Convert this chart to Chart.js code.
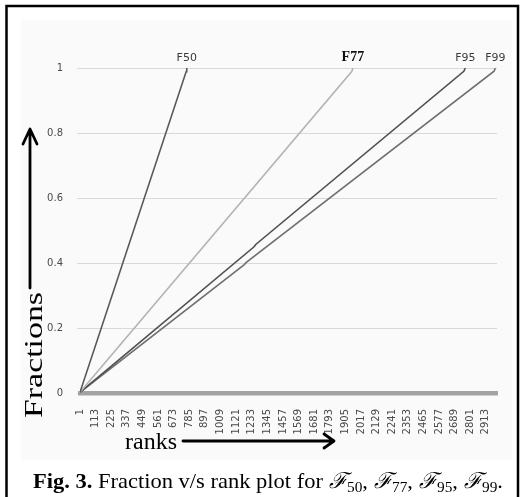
<!DOCTYPE html>
<html>
<head>
<meta charset="utf-8">
<script src="https://cdn.jsdelivr.net/npm/chart.js@4"></script>
<style>
  html, body { margin: 0; padding: 0; background: #fff; }
</style>
</head>
<body>
<canvas id="fracChart" width="524" height="497"></canvas>
<script>
// series labels (drawn above the end of each line)
const seriesNames = ['F50', 'F77', 'F95', 'F99'];

// ranks / fractions for each curve
const f50Ranks = [1, 763, 767];
const f50Fractions = [0.002, 0.989, 1];
const f77Ranks = [1, 1952, 1959];
const f77Fractions = [0.002, 0.99, 1];
const f95Ranks = [1, 1250, 1262, 2755, 2766];
const f95Fractions = [0.002, 0.45, 0.457, 0.99, 1];
const f99Ranks = [1, 1180, 1192, 2972, 2981];
const f99Fractions = [0.002, 0.395, 0.401, 0.99, 1];

// axis ticks
const rankTicks = [1, 113, 225, 337, 449, 561, 673, 785, 897, 1009, 1121, 1233, 1345,
  1457, 1569, 1681, 1793, 1905, 2017, 2129, 2241, 2353, 2465, 2577, 2689, 2801, 2913];
const fractionTicks = [0, 0.2, 0.4, 0.6, 0.8, 1];
const lastRank = 2993;

const lineColors = ['#5a5a5a', '#b4b4b4', '#505050', '#707070'];

function toPoints(xs, ys) {
  return xs.map((x, i) => ({ x: x, y: ys[i] }));
}

const seriesData = [
  toPoints(f50Ranks, f50Fractions),
  toPoints(f77Ranks, f77Fractions),
  toPoints(f95Ranks, f95Fractions),
  toPoints(f99Ranks, f99Fractions)
];

// 그림 주변 장식: 테두리, 화살표, 축 제목, 캡션
const decorPlugin = {
  id: 'decor',
  beforeDraw(chart) {
    const c = chart.ctx;
    c.save();
    c.fillStyle = '#fafafa';
    c.fillRect(21, 20, 491, 440);
    c.restore();
  },
  afterDraw(chart) {
    const c = chart.ctx;
    const area = chart.chartArea;
    const xs = chart.scales.x;
    c.save();

    // outer frame
    c.strokeStyle = '#000';
    c.lineWidth = 2.5;
    c.beginPath();
    c.moveTo(6.5, 500);
    c.lineTo(6.5, 6);
    c.lineTo(518, 6);
    c.lineTo(518, 500);
    c.stroke();

    // names above line ends
    c.textAlign = 'center';
    c.textBaseline = 'alphabetic';
    chart.data.datasets.forEach((ds, i) => {
      const last = ds.data[ds.data.length - 1];
      const px = xs.getPixelForValue(last.x);
      if (i === 1) {
        c.font = 'bold 14px "Liberation Serif"';
        c.fillStyle = '#111';
      } else {
        c.font = '11px "DejaVu Sans"';
        c.fillStyle = '#3a3a3a';
      }
      c.fillText(seriesNames[i], px, area.top - 7);
    });

    // y arrow
    c.strokeStyle = '#000';
    c.lineWidth = 2.8;
    c.lineCap = 'round';
    c.lineJoin = 'round';
    c.beginPath();
    c.moveTo(30, 288);
    c.lineTo(30, 130);
    c.moveTo(23, 144);
    c.lineTo(30, 129);
    c.lineTo(37, 144);
    c.stroke();

    // x arrow
    c.beginPath();
    c.moveTo(183, 441);
    c.lineTo(333, 441);
    c.moveTo(324, 434);
    c.lineTo(334, 441);
    c.lineTo(324, 448);
    c.stroke();

    // axis titles
    c.fillStyle = '#000';
    c.textAlign = 'left';
    c.font = '24px "Liberation Serif"';
    c.fillText('ranks', 125, 449);

    c.save();
    c.translate(42, 418);
    c.rotate(-Math.PI / 2);
    c.font = '26px "Liberation Serif"';
    const fw = c.measureText('Fractions').width;
    c.scale(126 / fw, 1);
    c.fillText('Fractions', 0, 0);
    c.restore();

    // caption, stretched to span 33..503 like the reference
    const parts = [
      ['Fig. 3.', 'bold 22px "Liberation Serif"', 0],
      [' Fraction v/s rank plot for ', '22px "Liberation Serif"', 0]
    ];
    ['50', '77', '95', '99'].forEach((sub, i) => {
      parts.push(['\u2131', 'italic 22px "DejaVu Serif"', 0]);
      parts.push([sub, '15px "Liberation Serif"', 4]);
      parts.push([i < 3 ? ', ' : '.', '22px "Liberation Serif"', 0]);
    });
    let total = 0;
    parts.forEach(p => { c.font = p[1]; total += c.measureText(p[0]).width; });
    c.save();
    c.translate(33, 488);
    c.scale(470 / total, 1);
    let x = 0;
    parts.forEach(p => {
      c.font = p[1];
      c.fillText(p[0], x, p[2]);
      x += c.measureText(p[0]).width;
    });
    c.restore();

    c.restore();
  }
};

const ctx = document.getElementById('fracChart').getContext('2d');
const fracChart = new Chart(ctx, {
  type: 'line',
  data: {
    datasets: seriesData.map((pts, i) => ({
      label: seriesNames[i],
      data: pts,
      borderColor: lineColors[i],
      borderWidth: 1.6,
      pointRadius: 0,
      tension: 0,
      fill: false
    }))
  },
  options: {
    responsive: false,
    animation: false,
    devicePixelRatio: 1,
    layout: { padding: { left: 0, top: 68, right: 27, bottom: 0 } },
    plugins: {
      legend: { display: false },
      tooltip: { enabled: false }
    },
    scales: {
      x: {
        type: 'linear',
        min: 1,
        max: lastRank,
        afterBuildTicks: s => { s.ticks = rankTicks.map(v => ({ value: v })); },
        afterFit: s => { s.height = 104; },
        grid: { display: false },
        border: { display: true, width: 4.5, color: '#a3a3a3' },
        ticks: {
          autoSkip: false,
          minRotation: 90,
          maxRotation: 90,
          padding: 8,
          color: '#4a4a4a',
          font: { family: 'DejaVu Sans', size: 10 },
          callback: v => String(v)
        }
      },
      y: {
        min: 0,
        max: 1,
        afterBuildTicks: s => { s.ticks = fractionTicks.map(v => ({ value: v })); },
        afterFit: s => { s.width = 80; },
        grid: { color: '#d9d9d9', lineWidth: 1, tickLength: 3 },
        border: { display: false },
        ticks: {
          padding: 14,
          color: '#4a4a4a',
          font: { family: 'DejaVu Sans', size: 10 },
          callback: v => String(v)
        }
      }
    }
  },
  plugins: [decorPlugin]
});
</script>
</body>
</html>
